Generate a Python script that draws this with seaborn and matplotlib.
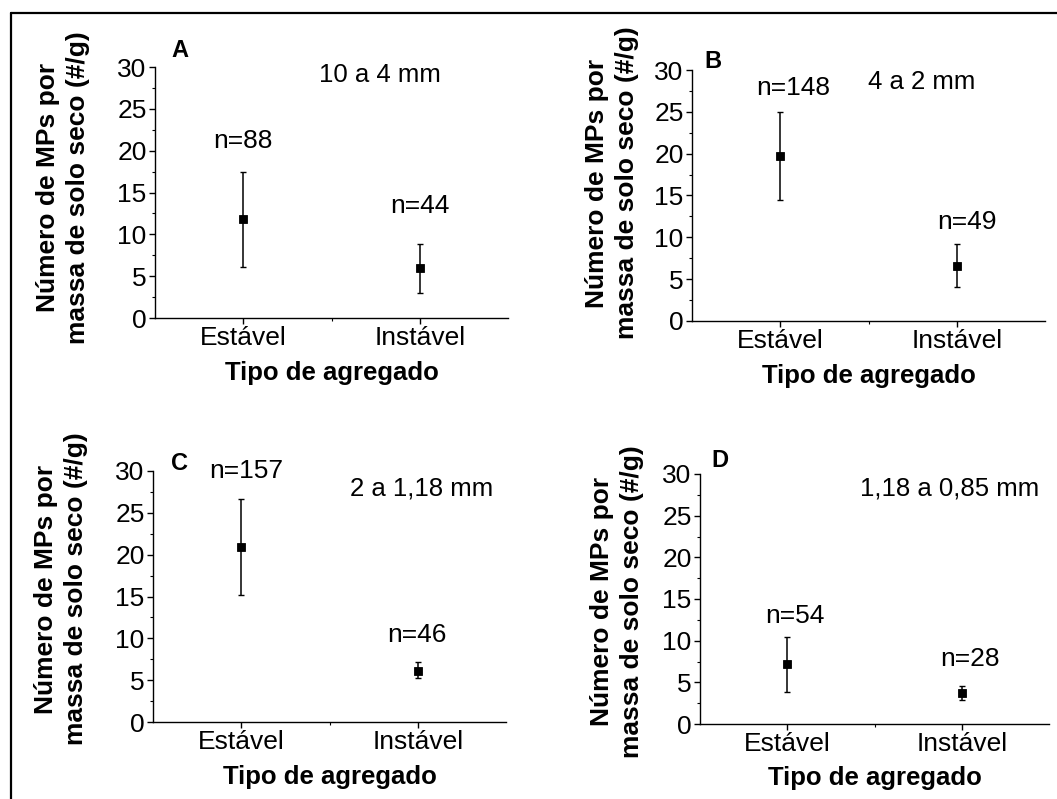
import numpy as np
import pandas as pd
import matplotlib
matplotlib.use("Agg")
import matplotlib.pyplot as plt
from matplotlib.lines import Line2D
from matplotlib.ticker import MultipleLocator, FixedLocator
import seaborn as sns

# ---- data ----
categorias = ["Estável", "Instável"]

media_A = [11.8, 5.95]
inf_A = [6.1, 3.0]
sup_A = [17.4, 8.8]
n_A = [88, 44]

media_B = [19.75, 6.55]
inf_B = [14.5, 4.05]
sup_B = [24.95, 9.15]
n_B = [148, 49]

media_C = [20.9, 6.15]
inf_C = [15.2, 5.2]
sup_C = [26.65, 7.2]
n_C = [157, 46]

media_D = [7.15, 3.7]
inf_D = [3.9, 2.9]
sup_D = [10.5, 4.55]
n_D = [54, 28]

letras = ["A", "B", "C", "D"]
faixas = ["10 a 4 mm", "4 a 2 mm", "2 a 1,18 mm", "1,18 a 0,85 mm"]

# ---- layout (pixel boxes of each panel, label placement) ----
W, H = 1057, 799
caixas = [  # left, right, top, bottom in pixels
    (155, 508, 67, 318),
    (692, 1045, 70, 321),
    (153, 506, 471, 722),
    (700, 1049, 474, 724),
]
pos_letra = [(-0.36, 32.0), (-0.38, 31.0), (-0.35, 30.9), (-0.385, 31.6)]
pos_faixa = [(0.775, 29.0), (0.80, 28.6), (1.02, 27.9), (0.93, 28.3)]
pos_n = [
    [(0.0, 21.1), (1.0, 13.4)],
    [(0.076, 27.8), (1.058, 11.8)],
    [(0.031, 30.0), (0.994, 10.45)],
    [(0.044, 12.96), (1.047, 7.76)],
]
ylabel_pos = [(-0.185, 0.52), (-0.15, 0.55), (-0.185, 0.53), (-0.16, 0.49)]

sns.set_theme(style="ticks")
plt.rcParams["font.family"] = ["Liberation Sans", "DejaVu Sans"]

fig = plt.figure(figsize=(W / 100, H / 100), dpi=100)
fig.patch.set_facecolor("white")

paineis = [
    (media_A, inf_A, sup_A, n_A),
    (media_B, inf_B, sup_B, n_B),
    (media_C, inf_C, sup_C, n_C),
    (media_D, inf_D, sup_D, n_D),
]

for i, (media, inf, sup, n) in enumerate(paineis):
    l, r, t, b = caixas[i]
    ax = fig.add_axes([l / W, 1 - b / H, (r - l) / W, (b - t) / H])
    ax.set_facecolor("white")
    df = pd.DataFrame({"tipo": categorias, "media": media})
    sns.pointplot(data=df, x="tipo", y="media", markers="s", linestyles="none",
                  color="black", errorbar=None, markersize=6,
                  markeredgewidth=0.6, ax=ax)
    med = np.array(media)
    yerr = [med - np.array(inf), np.array(sup) - med]
    ax.errorbar(np.arange(len(categorias)), med, yerr=yerr, fmt="none",
                ecolor="black", elinewidth=1.1, capsize=2.2, capthick=1.0)

    ax.set_xlim(-0.5, 1.5)
    ax.set_ylim(0, 30)
    ax.yaxis.set_major_locator(MultipleLocator(5))
    ax.yaxis.set_minor_locator(MultipleLocator(2.5))
    ax.xaxis.set_minor_locator(FixedLocator([0.5]))
    for s in ["top", "right"]:
        ax.spines[s].set_visible(False)
    for s in ["left", "bottom"]:
        ax.spines[s].set_color("black")
        ax.spines[s].set_linewidth(1.0)
    ax.tick_params(axis="both", which="major", direction="out", length=4,
                   width=1, color="black", labelcolor="black", pad=2)
    ax.tick_params(axis="both", which="minor", direction="out", length=2.5,
                   width=0.8, color="black")
    ax.tick_params(axis="y", labelsize=19)
    ax.tick_params(axis="x", labelsize=19)

    ax.set_xlabel("Tipo de agregado", fontsize=18.5, fontweight="bold",
                  color="black")
    ax.xaxis.set_label_coords(0.5, -0.17)
    ax.set_ylabel("Número de MPs por\nmassa de solo seco (#/g)", fontsize=19,
                  fontweight="bold", color="black", linespacing=1.3)
    ax.yaxis.set_label_coords(*ylabel_pos[i])

    ax.text(*pos_letra[i], letras[i], fontsize=17, fontweight="bold",
            ha="center", va="center", color="black")
    ax.text(*pos_faixa[i], faixas[i], fontsize=18.5, ha="center", va="center",
            color="black")
    for (x, y), cnt in zip(pos_n[i], n):
        ax.text(x, y, f"n={cnt}", fontsize=19, ha="center", va="center",
                color="black")

# outer frame (top and left edges)
fig.add_artist(Line2D([11 / W, 1.0], [1 - 13 / H, 1 - 13 / H],
                      transform=fig.transFigure, color="black", lw=1.6))
fig.add_artist(Line2D([11 / W, 11 / W], [1 - 13 / H, 0.0],
                      transform=fig.transFigure, color="black", lw=1.6))

fig.savefig("out.png", dpi=100, facecolor="white")
